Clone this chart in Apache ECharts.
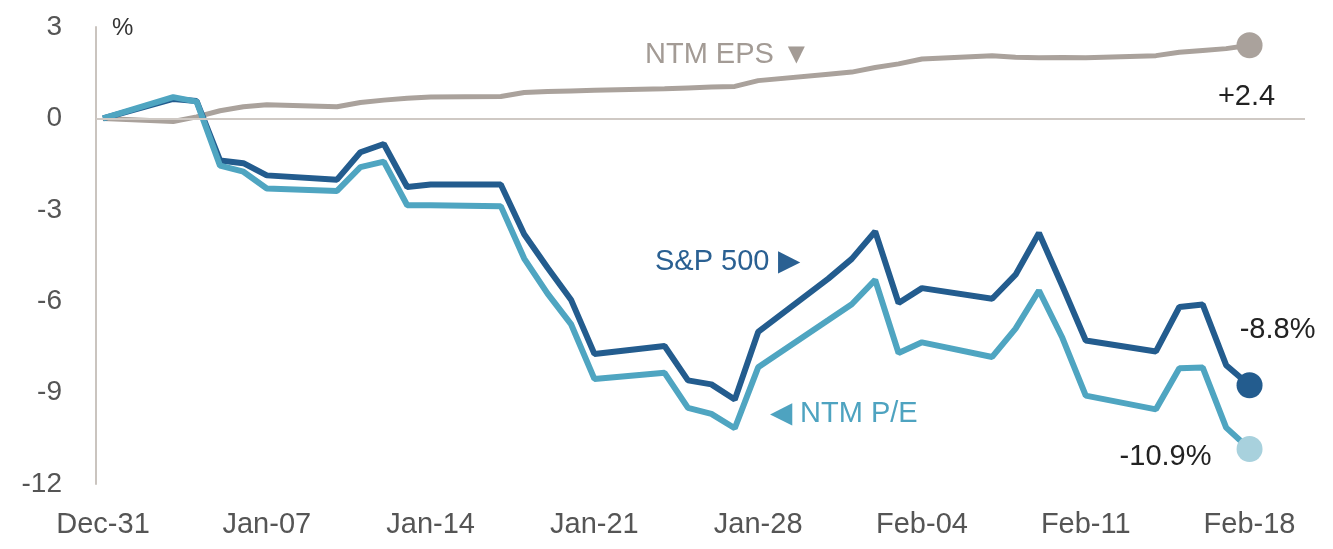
<!DOCTYPE html>
<html>
<head>
<meta charset="utf-8">
<title>S&amp;P 500 vs NTM EPS and NTM P/E</title>
<style>
  html, body { margin: 0; padding: 0; background: #fff; }
  #chart { width: 1333px; height: 549px; }
</style>
</head>
<body>
<div id="chart"></div>
<script src="https://cdn.jsdelivr.net/npm/echarts@6/dist/echarts.min.js"></script>
<script>
// daily points, % change since Dec-31 (weekends joined straight, Jan-17 held flat)
const dates = [
  '2021-12-31', '2022-01-03', '2022-01-04', '2022-01-05', '2022-01-06', '2022-01-07',
  '2022-01-10', '2022-01-11', '2022-01-12', '2022-01-13', '2022-01-14',
  '2022-01-17', '2022-01-18', '2022-01-19', '2022-01-20', '2022-01-21',
  '2022-01-24', '2022-01-25', '2022-01-26', '2022-01-27', '2022-01-28',
  '2022-01-31', '2022-02-01', '2022-02-02', '2022-02-03', '2022-02-04',
  '2022-02-07', '2022-02-08', '2022-02-09', '2022-02-10', '2022-02-11',
  '2022-02-14', '2022-02-15', '2022-02-16', '2022-02-17', '2022-02-18'
]
const sp500 = [
  0, 0.64, 0.57, -1.38, -1.47, -1.87,
  -2.01, -1.11, -0.84, -2.25, -2.17,
  -2.17, -3.8, -4.9, -5.95, -7.73,
  -7.47, -8.6, -8.73, -9.23, -7.01,
  -5.26, -4.61, -3.71, -6.06, -5.57,
  -5.92, -5.13, -3.76, -5.5, -7.29,
  -7.65, -6.19, -6.11, -8.1, -8.76
]
const ntmEps = [
  0, -0.1, 0.05, 0.25, 0.38, 0.45,
  0.38, 0.52, 0.6, 0.66, 0.7,
  0.72, 0.85, 0.88, 0.9, 0.92,
  0.97, 1.0, 1.03, 1.05, 1.24,
  1.45, 1.52, 1.67, 1.79, 1.95,
  2.06, 2.01, 1.99, 2.0, 1.99,
  2.06, 2.17, 2.23, 2.29, 2.4
]
const ntmPe = [
  0, 0.7, 0.55, -1.55, -1.75, -2.3,
  -2.38, -1.6, -1.42, -2.85, -2.85,
  -2.88, -4.6, -5.75, -6.75, -8.55,
  -8.35, -9.5, -9.7, -10.17, -8.17,
  -6.62, -6.1, -5.3, -7.7, -7.35,
  -7.83, -6.9, -5.65, -7.2, -9.1,
  -9.55, -8.2, -8.18, -10.15, -10.85
]
const tickDates = ['2021-12-31', '2022-01-07', '2022-01-14', '2022-01-21', '2022-01-28', '2022-02-04', '2022-02-11', '2022-02-18']
const tickLabels = ['Dec-31', 'Jan-07', 'Jan-14', 'Jan-21', 'Jan-28', 'Feb-04', 'Feb-11', 'Feb-18']
const endLabels = { eps: '+2.4', sp: '-8.8%', pe: '-10.9%' }

const FONT = "'Liberation Sans', Arial, sans-serif"
const C_SP = '#235c8e'
const C_PE = '#4fa5c1'
const C_EPS = '#aaa29c'

const DAY = 86400000
const start = Date.parse(dates[0])
const dayOf = d => (Date.parse(d) - start) / DAY
const tickDays = tickDates.map(dayOf)

function toData(values, end) {
  return values.map((v, i) => {
    const item = { value: [dayOf(dates[i]), v] }
    if (i === values.length - 1) Object.assign(item, end)
    return item
  })
}

function endPoint(color, text, offset) {
  return {
    symbol: 'circle',
    symbolSize: 26,
    itemStyle: { color: color },
    label: {
      show: true,
      position: 'inside',
      offset: offset,
      formatter: text,
      color: '#222',
      fontSize: 29,
      fontFamily: FONT
    }
  }
}

const chart = echarts.init(document.getElementById('chart'))

chart.setOption({
  animation: false,
  grid: { left: 96, right: 28, top: 27, bottom: 65 },
  xAxis: {
    type: 'value',
    min: -0.3,
    max: 51.37,
    axisLine: { show: false },
    axisTick: { show: false },
    splitLine: { show: false },
    axisLabel: {
      customValues: tickDays,
      margin: 26,
      color: '#555',
      fontSize: 29,
      fontFamily: FONT,
      formatter: v => {
        const k = tickDays.indexOf(v)
        return k >= 0 ? tickLabels[k] : ''
      }
    }
  },
  yAxis: {
    type: 'value',
    min: -12,
    max: 3,
    interval: 3,
    axisLine: { show: true, onZero: false, lineStyle: { color: '#cac4bf', width: 2 } },
    axisTick: { show: false },
    splitLine: { show: false },
    axisLabel: {
      margin: 34,
      color: '#555',
      fontSize: 28,
      fontFamily: FONT
    }
  },
  series: [
    {
      name: 'NTM EPS',
      type: 'line',
      symbol: 'none',
      lineStyle: { color: C_EPS, width: 5 },
      itemStyle: { color: C_EPS },
      emphasis: { disabled: true },
      data: toData(ntmEps, endPoint(C_EPS, endLabels.eps, [-3, 52])),
      markLine: {
        silent: true,
        symbol: 'none',
        label: { show: false },
        lineStyle: { color: '#cfc9c4', width: 2, type: 'solid' },
        data: [{ yAxis: 0 }]
      },
      z: 2
    },
    {
      name: 'S&P 500',
      type: 'line',
      symbol: 'none',
      lineStyle: { color: C_SP, width: 6 },
      itemStyle: { color: C_SP },
      emphasis: { disabled: true },
      data: toData(sp500, endPoint(C_SP, endLabels.sp, [28, -55])),
      z: 3
    },
    {
      name: 'NTM P/E',
      type: 'line',
      symbol: 'none',
      lineStyle: { color: C_PE, width: 6 },
      itemStyle: { color: C_PE },
      emphasis: { disabled: true },
      data: toData(ntmPe, endPoint('#a8d1dd', endLabels.pe, [-84, 8])),
      z: 4
    }
  ],
  graphic: [
    {
      type: 'text', x: 112, y: 28,
      style: { text: '%', fill: '#333', font: '24px ' + FONT, textVerticalAlign: 'middle' }
    },
    {
      type: 'text', x: 645, y: 55,
      style: { text: 'NTM EPS \u25BC', fill: '#a39b95', font: '29px ' + FONT, textVerticalAlign: 'middle' }
    },
    {
      type: 'text', x: 655, y: 262,
      style: { text: 'S&P 500 \u25B6', fill: '#2a6092', font: '29px ' + FONT, textVerticalAlign: 'middle' }
    },
    {
      type: 'text', x: 770, y: 414,
      style: { text: '\u25C0 NTM P/E', fill: '#4ea3c0', font: '29px ' + FONT, textVerticalAlign: 'middle' }
    }
  ]
})
</script>
</body>
</html>
